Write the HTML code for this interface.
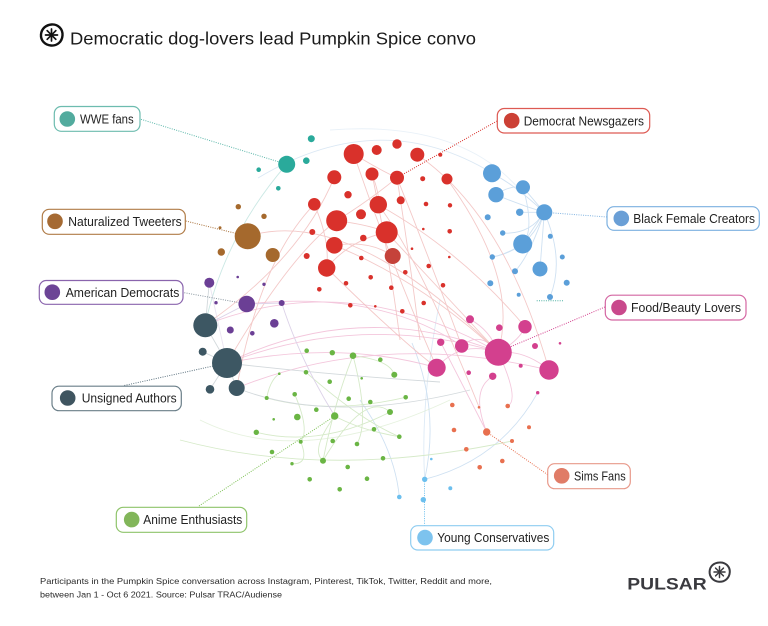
<!DOCTYPE html>
<html><head><meta charset="utf-8"><style>
html,body{margin:0;padding:0;background:#fff;}
svg{display:block;}
text{font-family:"Liberation Sans",sans-serif;}
</style></head><body>
<svg width="768" height="626" viewBox="0 0 768 626" xmlns="http://www.w3.org/2000/svg">
<rect width="768" height="626" fill="#fff"/>
<!-- title -->
<g stroke="#111" fill="none" stroke-linecap="round">
<path d="M51.5,24.5 C58,24 63,29 62.5,35.5 C62,42 57,46 51,45.5 C45,45 40.5,40.5 41,34.5 C41.5,28.5 46,25 51.5,24.5 Z" stroke-width="2.4"/>
<g stroke-width="1.7"><line x1="51.5" y1="29" x2="51.5" y2="41"/><line x1="45.5" y1="35" x2="57.5" y2="35"/><line x1="47.2" y1="30.7" x2="55.8" y2="39.3"/><line x1="55.8" y1="30.7" x2="47.2" y2="39.3"/></g>
</g>
<text x="70" y="44.5" font-size="17.5" fill="#1a1a1a" textLength="406" lengthAdjust="spacingAndGlyphs">Democratic dog-lovers lead Pumpkin Spice convo</text>

<!-- edges -->
<g fill="none" stroke-width="0.9">
<g stroke="#c5e6e1" opacity="0.9">
<path d="M286.7,164.3 Q225,235 205,325"/>
</g>
<g stroke="#dbe8f4">
<path d="M258,178 Q380,105 492,173"/>
<path d="M330,130 Q460,120 520,190" opacity="0.6"/>
</g>
<g stroke="#cfe1f2">
<path d="M544.3,212.3 Q515,185 492,173.3"/>
<path d="M544.3,212.3 L523,187.3"/>
<path d="M544.3,212.3 Q520,205 496,194.7"/>
<path d="M496,194.7 Q510,185 523,187.3"/>
<path d="M544.3,212.3 L519.7,212.3"/>
<path d="M544.3,212.3 Q530,235 502.7,233"/>
<path d="M544.3,212.3 L522.7,244"/>
<path d="M544.3,212.3 Q530,250 492.3,257"/>
<path d="M544.3,212.3 L540,269"/>
<path d="M544.3,212.3 Q530,255 515,271.3"/>
<path d="M544.3,212.3 Q565,260 550,297"/>
<path d="M523,187.3 Q535,230 522.7,244"/>
<path d="M522.7,244 Q505,255 492.3,257"/>
<path d="M424.7,479.3 Q500,460 537.7,392.7"/>
<path d="M412,343 Q440,410 424.7,479.3"/>
<path d="M360,400 Q395,450 399.3,497"/>
<path d="M440,300 Q420,400 424.7,479.3" opacity="0.7"/>
</g>
<g stroke="#f2bdd6" opacity="0.85">
<path d="M227,363 Q360,298 498,352"/>
<path d="M227,363 Q360,312 498,352"/>
<path d="M205,325 Q350,268 498,352"/>
<path d="M236.7,388 Q380,330 549,370"/>
<path d="M227,363 Q340,340 436.7,367.7"/>
<path d="M246.7,304 Q380,290 461.7,346"/>
<path d="M461.7,346 Q480,330 498.3,352.3"/>
<path d="M436.7,367.7 Q460,340 498.3,352.3"/>
<path d="M498.3,352.3 Q525,350 549,370"/>
<path d="M470,319.3 Q490,330 498.3,352.3"/>
<path d="M498.3,352.3 Q520,340 525,326.7"/>
<path d="M492.7,376.3 Q470,390 486.7,432"/>
<path d="M498.3,352.3 Q520,400 507.7,406"/>
<path d="M440.7,342.3 Q460,380 486.7,432"/>
</g>
<g stroke="#f1bcbb" opacity="0.8">
<path d="M247.7,236.3 Q350,205 498,352"/>
<path d="M334.3,245.3 Q420,280 498,352"/>
<path d="M386.7,232.3 Q450,300 498,352"/>
<path d="M326.7,268 Q400,340 436.7,367.7"/>
<path d="M336.7,220.7 Q290,255 227,363"/>
<path d="M378.3,204.7 Q460,250 525,326.7"/>
<path d="M397,177.7 Q430,260 461.7,346"/>
<path d="M353.7,154 Q390,260 436.7,367.7"/>
<path d="M417.3,154.7 Q505,215 549,370"/>
<path d="M314.3,204.3 Q260,260 236.7,388"/>
<path d="M372,174 Q390,260 400,340"/>
<path d="M397,177.7 Q410,260 420,340"/>
<path d="M447,179 Q520,280 498,352"/>
<path d="M334.3,177.3 Q300,260 205,325"/>
<path d="M386.7,232.3 Q350,240 326.7,268"/>
<path d="M336.7,220.7 Q370,225 386.7,232.3"/>
<path d="M334.3,245.3 Q370,240 392.7,256"/>
<path d="M353.7,154 Q380,170 397,177.7"/>
<path d="M372,174 Q380,195 378.3,204.7"/>
<path d="M397,177.7 Q370,200 336.7,220.7"/>
<path d="M314.3,204.3 Q330,240 326.7,268"/>
<path d="M378.3,204.7 Q420,260 479,407"/>
</g>
<g stroke="#d6eac9">
<path d="M334.7,416 Q310,450 323,460.7"/>
<path d="M323,460.7 Q335,400 353,355.7"/>
<path d="M323,460.7 Q365,390 390,412"/>
<path d="M256.3,432.3 Q320,448 390,412"/>
<path d="M266.7,398 Q270,380 279.3,373.7"/>
<path d="M266.7,398 Q330,415 405.7,397.3"/>
<path d="M306,372.3 Q360,420 399.3,436.7"/>
<path d="M180,440 Q330,480 512,441"/>
<path d="M353,355.7 Q390,360 394.3,374.7"/>
<path d="M294.7,394.3 Q310,430 300.7,441.7"/>
<path d="M300.7,441.7 Q310,465 292,463.7"/>
<path d="M353,355.7 Q370,420 357,444"/>
<path d="M334.7,416 Q360,430 399.3,436.7"/>
<path d="M200,420 Q300,470 450,400" opacity="0.6"/>
</g>
<g stroke="#d3d9dc">
<path d="M205.3,325.3 L227,363"/>
<path d="M202.7,351.7 L227,363"/>
<path d="M210,389.3 L227,363"/>
<path d="M236.7,388 L227,363"/>
<path d="M227,363 Q330,375 440,382"/>
<path d="M236.7,388 Q330,425 470,390"/>
<path d="M205.3,325.3 L209.3,282.7"/>
</g>
<g stroke="#dcd2e8">
<path d="M246.7,304 L281.7,303"/>
<path d="M281.7,303 Q300,360 334.7,416"/>
<path d="M246.7,304 L205.3,325.3"/>
<path d="M209.3,282.7 L227,363" opacity="0.6"/>
</g>
</g>

<!-- dotted connectors -->
<g fill="none" stroke-width="1" stroke-dasharray="1 1.3">
<path d="M141,119.3 L286.7,164.3" stroke="#5cb7aa"/>
<path d="M185.7,221 L247.7,236.3" stroke="#a8713a"/>
<path d="M184.3,292.7 L246.7,304" stroke="#8a97a0"/>
<path d="M124.3,385.5 L227,363" stroke="#5e7480"/>
<path d="M497,121 L397,177.7" stroke="#d9312b"/>
<path d="M607,217 L544.3,212.3" stroke="#7fb2e0"/>
<path d="M605,307 L498,352" stroke="#d3408e"/>
<path d="M199,506 L334.7,416" stroke="#7cc054"/>
<path d="M547.7,474.7 L486.7,432" stroke="#e8704f"/>
<path d="M424.5,479 L424.5,525.7" stroke="#6cbfee"/>
<path d="M536.7,300.7 L563.3,300.7" stroke="#4fb1a3"/>
</g>

<!-- nodes -->
<g fill="#2aaa9b">
<circle cx="286.7" cy="164.3" r="8.5"/><circle cx="311.3" cy="138.7" r="3.5"/><circle cx="306.3" cy="160.7" r="3.3"/><circle cx="258.7" cy="169.7" r="2.3"/><circle cx="278.3" cy="188.3" r="2.3"/>
</g>
<g fill="#d9312b">
<circle cx="353.7" cy="154" r="10"/><circle cx="376.7" cy="150" r="5"/><circle cx="397" cy="144" r="4.7"/><circle cx="417.3" cy="154.7" r="7"/><circle cx="440.3" cy="154.7" r="2"/>
<circle cx="334.3" cy="177.3" r="7"/><circle cx="372" cy="174" r="6.5"/><circle cx="397" cy="177.7" r="7"/><circle cx="422.7" cy="178.7" r="2.5"/><circle cx="447" cy="179" r="5.5"/>
<circle cx="348" cy="194.7" r="3.7"/><circle cx="378.3" cy="204.7" r="8.7"/><circle cx="361" cy="214.3" r="5"/><circle cx="400.7" cy="200.3" r="4"/><circle cx="426" cy="204" r="2.3"/><circle cx="450" cy="205.3" r="2.2"/>
<circle cx="314.3" cy="204.3" r="6.3"/><circle cx="336.7" cy="220.7" r="10.5"/><circle cx="386.7" cy="232.3" r="11"/><circle cx="312.3" cy="232" r="3"/><circle cx="363.3" cy="238" r="3.3"/>
<circle cx="334.3" cy="245.3" r="8.3"/><circle cx="423.3" cy="229" r="1.3"/><circle cx="449.7" cy="231.3" r="2.3"/><circle cx="412" cy="248.7" r="1.3"/><circle cx="306.7" cy="256" r="3"/>
<circle cx="326.7" cy="268" r="8.7"/><circle cx="361.3" cy="258" r="2.3"/><circle cx="428.7" cy="266" r="2.3"/><circle cx="449.3" cy="257" r="1.3"/><circle cx="405.3" cy="272.3" r="2.3"/>
<circle cx="370.7" cy="277.3" r="2.3"/><circle cx="346" cy="283.3" r="2.3"/><circle cx="391.3" cy="287.7" r="2.3"/><circle cx="443" cy="285.3" r="2.3"/><circle cx="319.3" cy="289.3" r="2.3"/>
<circle cx="350.3" cy="305.3" r="2.3"/><circle cx="375.3" cy="306.3" r="1.3"/><circle cx="402.3" cy="311.3" r="2.3"/><circle cx="423.7" cy="303" r="2.3"/>
</g>
<circle cx="392.7" cy="256" r="8" fill="#c5423a"/>
<g fill="#a5692d">
<circle cx="247.7" cy="236.3" r="13"/><circle cx="272.7" cy="255" r="7"/><circle cx="221.3" cy="252" r="3.7"/><circle cx="238.3" cy="206.7" r="2.7"/><circle cx="264" cy="216.3" r="2.7"/><circle cx="220" cy="227.7" r="1.5"/>
</g>
<g fill="#6b3f95">
<circle cx="246.7" cy="304" r="8.3"/><circle cx="209.3" cy="282.7" r="5"/><circle cx="281.7" cy="303" r="3"/><circle cx="264" cy="284.3" r="1.7"/><circle cx="237.7" cy="277" r="1.3"/><circle cx="216" cy="302.7" r="1.7"/>
<circle cx="274.3" cy="323.3" r="4.3"/><circle cx="230.3" cy="330" r="3.5"/><circle cx="252.3" cy="333.3" r="2.3"/>
</g>
<g fill="#3d5763">
<circle cx="205.3" cy="325.3" r="12"/><circle cx="227" cy="363" r="15"/><circle cx="202.7" cy="351.7" r="4"/><circle cx="210" cy="389.3" r="4.3"/><circle cx="236.7" cy="388" r="8"/>
</g>
<g fill="#5b9fd9">
<circle cx="492" cy="173.3" r="9"/><circle cx="496" cy="194.7" r="7.7"/><circle cx="523" cy="187.3" r="7"/><circle cx="519.7" cy="212.3" r="3.7"/><circle cx="544.3" cy="212.3" r="8"/>
<circle cx="487.7" cy="217.3" r="3"/><circle cx="502.7" cy="233" r="2.7"/><circle cx="522.7" cy="244" r="9.5"/><circle cx="550.3" cy="236.3" r="2.5"/><circle cx="492.3" cy="257" r="2.7"/>
<circle cx="515" cy="271.3" r="3"/><circle cx="540" cy="269" r="7.5"/><circle cx="562.3" cy="257" r="2.5"/><circle cx="490.3" cy="283.3" r="3"/><circle cx="566.7" cy="282.7" r="3"/><circle cx="518.7" cy="294.7" r="2"/><circle cx="550" cy="297" r="3"/>
</g>
<g fill="#d3408e">
<circle cx="498.3" cy="352.3" r="13.5"/><circle cx="436.7" cy="367.7" r="9"/><circle cx="549" cy="370" r="9.7"/><circle cx="461.7" cy="346" r="6.7"/><circle cx="525" cy="326.7" r="6.7"/>
<circle cx="470" cy="319.3" r="4"/><circle cx="499.3" cy="327.7" r="3.3"/><circle cx="440.7" cy="342.3" r="3.7"/><circle cx="535" cy="346" r="3"/><circle cx="560" cy="343.3" r="1.3"/>
<circle cx="520.7" cy="365.7" r="2"/><circle cx="468.7" cy="372.7" r="2.3"/><circle cx="492.7" cy="376.3" r="3.7"/><circle cx="537.7" cy="392.7" r="1.7"/>
</g>
<g fill="#e8704f">
<circle cx="452.3" cy="405" r="2.3"/><circle cx="479" cy="407.3" r="1.3"/><circle cx="507.7" cy="406" r="2.3"/><circle cx="454" cy="430" r="2.3"/><circle cx="486.7" cy="432" r="3.7"/>
<circle cx="529" cy="427.3" r="2"/><circle cx="512" cy="441" r="2"/><circle cx="466.3" cy="449.3" r="2.3"/><circle cx="502.3" cy="461" r="2.3"/><circle cx="479.7" cy="467.3" r="2.3"/>
</g>
<g fill="#6ab544">
<circle cx="306.7" cy="350.7" r="2.3"/><circle cx="332.3" cy="352.7" r="2.7"/><circle cx="353" cy="355.7" r="3.3"/><circle cx="380.3" cy="359.7" r="2.3"/><circle cx="306" cy="372.3" r="2.3"/>
<circle cx="279.3" cy="373.7" r="1.3"/><circle cx="329.7" cy="381.7" r="2.3"/><circle cx="361.7" cy="378.3" r="1.3"/><circle cx="394.3" cy="374.7" r="3"/><circle cx="266.7" cy="398" r="2"/>
<circle cx="294.7" cy="394.3" r="2.3"/><circle cx="348.7" cy="398.7" r="2.3"/><circle cx="370.3" cy="402" r="2.3"/><circle cx="405.7" cy="397.3" r="2.3"/><circle cx="316.3" cy="409.7" r="2.3"/>
<circle cx="297.3" cy="417" r="3.3"/><circle cx="334.7" cy="416" r="3.7"/><circle cx="390" cy="412" r="3"/><circle cx="273.7" cy="419.3" r="1.3"/><circle cx="256.3" cy="432.3" r="2.7"/>
<circle cx="374" cy="429.3" r="2.3"/><circle cx="399.3" cy="436.7" r="2.3"/><circle cx="300.7" cy="441.7" r="2"/><circle cx="332.7" cy="441" r="2.3"/><circle cx="357" cy="444" r="2.3"/>
<circle cx="272" cy="452" r="2.3"/><circle cx="323" cy="460.7" r="3"/><circle cx="383" cy="458.3" r="2.3"/><circle cx="292" cy="463.7" r="1.7"/><circle cx="347.7" cy="467" r="2.3"/>
<circle cx="309.7" cy="479.3" r="2.3"/><circle cx="367" cy="478.7" r="2.3"/><circle cx="339.7" cy="489.3" r="2.3"/>
</g>
<g fill="#6cbfee">
<circle cx="431.3" cy="459" r="1.3"/><circle cx="424.7" cy="479.3" r="2.7"/><circle cx="450.3" cy="488.3" r="2"/><circle cx="423.3" cy="499.7" r="2.7"/><circle cx="399.3" cy="497" r="2.3"/>
</g>

<!-- labels -->
<g stroke-width="1.2" fill="#fff">
<rect x="54.3" y="106.5" width="85.7" height="24.8" rx="7" stroke="#6dbcaf"/>
<rect x="42.3" y="209.3" width="143" height="25" rx="7" stroke="#b07c48"/>
<rect x="39.3" y="280.5" width="143.7" height="23.8" rx="7" stroke="#8a64ad"/>
<rect x="52" y="386.2" width="129.3" height="24.5" rx="7" stroke="#6a7e88"/>
<rect x="497.3" y="108.5" width="152.4" height="24.5" rx="7" stroke="#dd5a53"/>
<rect x="607" y="206.7" width="152.3" height="23.6" rx="7" stroke="#7cb0e0"/>
<rect x="605.3" y="295.2" width="140.7" height="24.8" rx="7" stroke="#d466a2"/>
<rect x="547.7" y="463.7" width="82.6" height="25" rx="7" stroke="#e8998a"/>
<rect x="410.7" y="525.7" width="143" height="24.3" rx="7" stroke="#8fcdf1"/>
<rect x="116.3" y="507.3" width="130.4" height="25" rx="7" stroke="#8fc46b"/>
</g>
<g>
<circle cx="67.3" cy="119" r="7.8" fill="#52ab9e"/>
<circle cx="55" cy="221.3" r="7.8" fill="#a56a33"/>
<circle cx="52.3" cy="292.2" r="7.8" fill="#6c4496"/>
<circle cx="67.7" cy="398" r="7.8" fill="#3f5560"/>
<circle cx="511.7" cy="120.7" r="7.8" fill="#cc4035"/>
<circle cx="621.3" cy="218.4" r="7.8" fill="#6a9fd6"/>
<circle cx="619" cy="307.5" r="7.8" fill="#c9498c"/>
<circle cx="561.7" cy="475.8" r="7.8" fill="#e07c67"/>
<circle cx="425" cy="537.6" r="7.8" fill="#7dc3ee"/>
<circle cx="131.7" cy="519.6" r="7.8" fill="#82b65a"/>
</g>
<g font-size="12.5" fill="#222">
<text x="80" y="123.6" textLength="53.7" lengthAdjust="spacingAndGlyphs">WWE fans</text>
<text x="68.3" y="225.9" textLength="113.4" lengthAdjust="spacingAndGlyphs">Naturalized Tweeters</text>
<text x="65.7" y="296.8" textLength="113.6" lengthAdjust="spacingAndGlyphs">American Democrats</text>
<text x="81.7" y="402.6" textLength="95" lengthAdjust="spacingAndGlyphs">Unsigned Authors</text>
<text x="523.7" y="125.3" textLength="120.3" lengthAdjust="spacingAndGlyphs">Democrat Newsgazers</text>
<text x="633.3" y="223" textLength="121.7" lengthAdjust="spacingAndGlyphs">Black Female Creators</text>
<text x="631" y="312.1" textLength="110" lengthAdjust="spacingAndGlyphs">Food/Beauty Lovers</text>
<text x="574" y="480.4" textLength="51.7" lengthAdjust="spacingAndGlyphs">Sims Fans</text>
<text x="437.3" y="542.2" textLength="112" lengthAdjust="spacingAndGlyphs">Young Conservatives</text>
<text x="143.3" y="524.2" textLength="99" lengthAdjust="spacingAndGlyphs">Anime Enthusiasts</text>
</g>

<!-- footer -->
<g font-size="8.6" fill="#2a2a2a">
<text x="40" y="584" textLength="452" lengthAdjust="spacingAndGlyphs">Participants in the Pumpkin Spice conversation across Instagram, Pinterest, TikTok, Twitter, Reddit and more,</text>
<text x="40" y="597.5" textLength="242" lengthAdjust="spacingAndGlyphs">between Jan 1 - Oct 6 2021. Source: Pulsar TRAC/Audiense</text>
</g>
<text x="627.3" y="589.7" font-size="17" font-weight="bold" fill="#3a3a3f" textLength="79.4" lengthAdjust="spacingAndGlyphs">PULSAR</text>
<g stroke="#3a3a3f" fill="none" stroke-linecap="round">
<path d="M719.5,562.5 C725.5,562 730,566.5 729.8,572 C729.5,578 725,582 719,581.7 C713.5,581.3 709.3,577 709.6,571.5 C710,566 714,562.8 719.5,562.5 Z" stroke-width="2"/>
<g stroke-width="1.5"><line x1="719.5" y1="566.5" x2="719.5" y2="577.5"/><line x1="714" y1="572" x2="725" y2="572"/><line x1="715.6" y1="568.1" x2="723.4" y2="575.9"/><line x1="723.4" y1="568.1" x2="715.6" y2="575.9"/></g>
</g>
</svg>
</body></html>
